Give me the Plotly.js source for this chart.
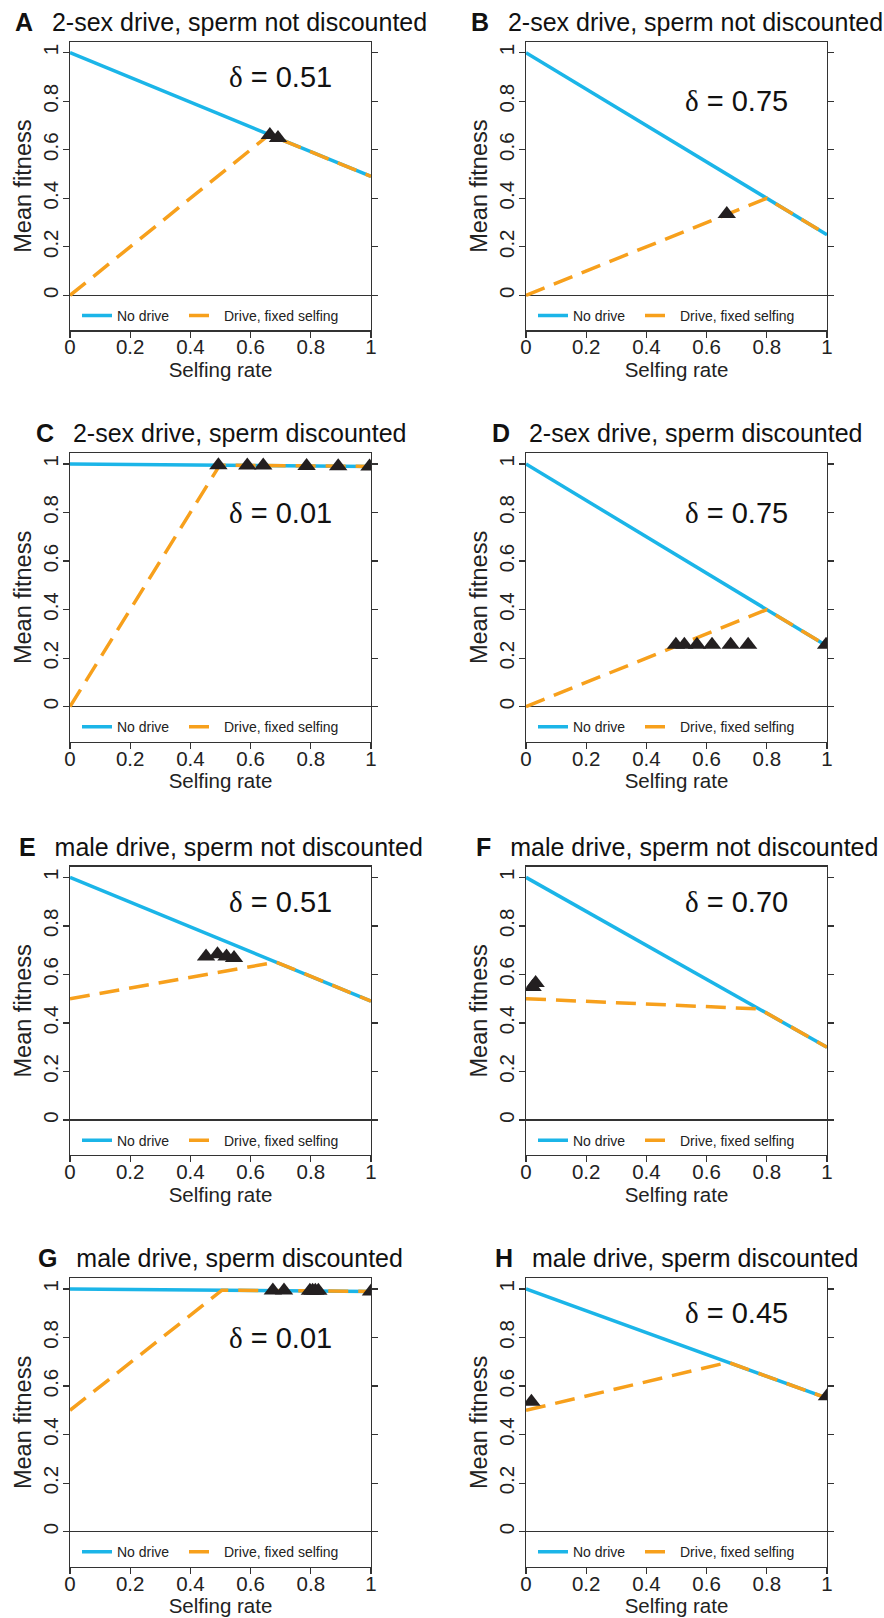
<!DOCTYPE html>
<html><head><meta charset="utf-8">
<script src="https://cdn.plot.ly/plotly-3.0.1.min.js"></script>
<style>html,body{margin:0;padding:0;background:#fff}</style>
</head><body><div id="chart" style="width:884px;height:1618px"></div>
<script>
// ---------- data ----------
const panelLetters = ['A','B','C','D','E','F','G','H'];
const panelTitles = [
  '2-sex drive, sperm not discounted', '2-sex drive, sperm not discounted',
  '2-sex drive, sperm discounted', '2-sex drive, sperm discounted',
  'male drive, sperm not discounted', 'male drive, sperm not discounted',
  'male drive, sperm discounted', 'male drive, sperm discounted'];
const deltaLabels = ['0.51','0.75','0.01','0.75','0.51','0.70','0.01','0.45'];
const tickValues = [0, 0.2, 0.4, 0.6, 0.8, 1];
const tickLabels = ['0','0.2','0.4','0.6','0.8','1'];
const legendNames = ['No drive', 'Drive, fixed selfing'];

const xNoDrive = [0, 1];
const yNoDriveA = [1, 0.49];
const yNoDriveB = [1, 0.25];
const yNoDriveC = [1, 0.99];
const yNoDriveD = [1, 0.25];
const yNoDriveE = [1, 0.49];
const yNoDriveF = [1, 0.30];
const yNoDriveG = [1, 0.99];
const yNoDriveH = [1, 0.55];

const xDriveA = [0, 0.662, 1];   const yDriveA = [0, 0.662, 0.49];
const xDriveB = [0, 0.8, 1];     const yDriveB = [0, 0.4, 0.25];
const xDriveC = [0, 0.4975, 1];  const yDriveC = [0, 0.995, 0.99];
const xDriveD = [0, 0.8, 1];     const yDriveD = [0, 0.4, 0.25];
const xDriveE = [0, 0.685, 1];   const yDriveE = [0.5, 0.651, 0.49];
const xDriveF = [0, 0.775, 1];   const yDriveF = [0.5, 0.458, 0.30];
const xDriveG = [0, 0.505, 1];   const yDriveG = [0.5, 0.995, 0.99];
const xDriveH = [0, 0.672, 1];   const yDriveH = [0.5, 0.698, 0.55];

const xTriA = [0.664, 0.691];  const yTriA = [0.661, 0.648];
const xTriB = [0.667];         const yTriB = [0.335];
const xTriC = [0.493, 0.589, 0.642, 0.786, 0.891, 0.995];
const yTriC = [0.995, 0.994, 0.994, 0.992, 0.991, 0.99];
const xTriD = [0.498, 0.526, 0.568, 0.618, 0.680, 0.738, 0.997];
const yTriD = [0.255, 0.255, 0.255, 0.255, 0.255, 0.255, 0.255];
const xTriE = [0.452, 0.49, 0.52, 0.545];  const yTriE = [0.674, 0.683, 0.674, 0.668];
const xTriF = [0.022, 0.032];  const yTriF = [0.548, 0.565];
const xTriG = [0.674, 0.711, 0.797, 0.806, 0.815, 0.825, 1];
const yTriG = [0.994, 0.994, 0.993, 0.993, 0.993, 0.993, 0.99];
const xTriH = [0.018, 1];      const yTriH = [0.535, 0.558];

// ---------- assembly ----------
const noDriveY = [yNoDriveA,yNoDriveB,yNoDriveC,yNoDriveD,yNoDriveE,yNoDriveF,yNoDriveG,yNoDriveH];
const driveX = [xDriveA,xDriveB,xDriveC,xDriveD,xDriveE,xDriveF,xDriveG,xDriveH];
const driveY = [yDriveA,yDriveB,yDriveC,yDriveD,yDriveE,yDriveF,yDriveG,yDriveH];
const triX = [xTriA,xTriB,xTriC,xTriD,xTriE,xTriF,xTriG,xTriH];
const triY = [yTriA,yTriB,yTriC,yTriD,yTriE,yTriF,yTriG,yTriH];

const W = 884, H = 1618;
const colLeft = [70, 526], plotW = 301;
const rowTop = [42, 453.3, 866.7, 1278.3], plotH = 288.3;
const yRange = [-0.144, 1.044];
const deltaPos = [[0.70,0.90],[0.70,0.80],[0.70,0.80],[0.70,0.80],[0.70,0.90],[0.70,0.90],[0.70,0.80],[0.70,0.90]];

const FONT = 'Liberation Sans, Arial, Helvetica, sans-serif';
const BLUE = '#1BB5E8', ORANGE = '#F7A01C', DARK = '#231F20', AX = '#333333';

const data = [];
const layout = {
  width: W, height: H, margin: {l:0, r:0, t:0, b:0},
  paper_bgcolor: '#fff', plot_bgcolor: '#fff', showlegend: true,
  font: {family: FONT, color: '#222'},
  annotations: []
};

for (let i = 0; i < 8; i++) {
  const r = Math.floor(i / 2), c = i % 2;
  const sfx = i === 0 ? '' : String(i + 1);
  const xa = 'x' + sfx, ya = 'y' + sfx;
  const legKey = 'legend' + sfx;

  data.push({x: xNoDrive, y: noDriveY[i], type: 'scatter', mode: 'lines', name: legendNames[0],
    xaxis: xa, yaxis: ya, legend: legKey, legendwidth: 62, line: {color: BLUE, width: 3.5}});
  data.push({x: driveX[i], y: driveY[i], type: 'scatter', mode: 'lines', name: legendNames[1],
    xaxis: xa, yaxis: ya, legend: legKey, legendwidth: 125, line: {color: ORANGE, width: 3.5, dash: '20px,10px'}});
  data.push({x: triX[i], y: triY[i], type: 'scatter', mode: 'markers', showlegend: false,
    xaxis: xa, yaxis: ya, marker: {symbol: 'triangle-up', size: 16, color: DARK, line: {width: 0}}});

  const x0 = colLeft[c], y0 = rowTop[r];
  layout['xaxis' + sfx] = {
    domain: [x0 / W, (x0 + plotW) / W], anchor: ya, range: [0, 1],
    tickmode: 'array', tickvals: tickValues, ticktext: tickLabels,
    ticks: 'outside', ticklen: 6, tickwidth: 1.2, tickcolor: AX, ticklabelstandoff: -8,
    showline: true, mirror: true, linecolor: AX, linewidth: 1.3,
    showgrid: false, zeroline: false, fixedrange: true,
    tickfont: {size: 20.5, color: '#222', family: FONT},
    title: {text: 'Selfing rate', font: {size: 20.5, color: '#222', family: FONT}, standoff: 5}
  };
  layout['yaxis' + sfx] = {
    domain: [1 - (y0 + plotH) / H, 1 - y0 / H], anchor: xa, range: yRange,
    tickmode: 'array', tickvals: tickValues, ticktext: tickLabels, tickangle: -90,
    ticks: 'outside', ticklen: 6, tickwidth: 1.2, tickcolor: AX, ticklabelstandoff: -3,
    showline: true, mirror: 'ticks', linecolor: AX, linewidth: 1.3,
    showgrid: false, zeroline: true, zerolinecolor: AX, zerolinewidth: 1.3, fixedrange: true,
    tickfont: {size: 20.5, color: '#222', family: FONT},
    title: {text: 'Mean fitness', font: {size: 23.5, color: '#222', family: FONT}, standoff: 0}
  };

  const zeroPx = y0 + plotH * (yRange[1] / (yRange[1] - yRange[0]));
  layout[legKey] = {
    orientation: 'h', x: (x0 + 7) / W, y: 1 - (zeroPx + 20.5) / H,
    xanchor: 'left', yanchor: 'middle', bgcolor: 'rgba(0,0,0,0)', borderwidth: 0,
    font: {size: 14, color: '#222', family: FONT}, itemwidth: 30,
    traceorder: 'normal', itemclick: false
  };

  layout.annotations.push({
    xref: xa + ' domain', yref: 'paper', x: 0.5, y: 1 - (y0 - 20) / H,
    xanchor: 'center', yanchor: 'middle', showarrow: false,
    text: '<b>' + panelLetters[i] + '</b>\u00A0\u00A0\u2009' + panelTitles[i],
    font: {size: 25, color: '#111', family: FONT}
  });
  layout.annotations.push({
    xref: xa, yref: ya, x: deltaPos[i][0], y: deltaPos[i][1],
    xanchor: 'center', yanchor: 'middle', showarrow: false,
    text: '<span style="font-family:Liberation Serif, Times New Roman, serif">\u03B4</span> = ' + deltaLabels[i],
    font: {size: 29, color: '#111', family: FONT}
  });
}

Plotly.newPlot('chart', data, layout, {staticPlot: true, displayModeBar: false});
</script></body></html>
